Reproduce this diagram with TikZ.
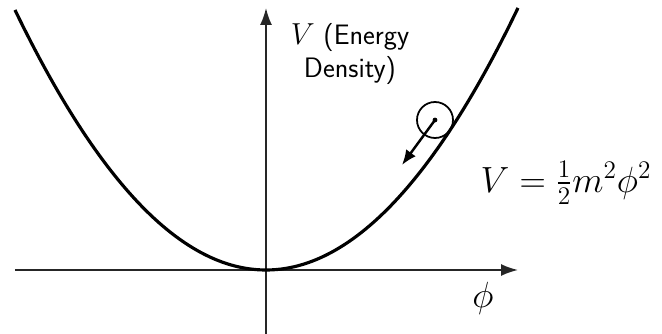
\documentclass[tikz,border=0pt]{standalone}
\usepackage{amsmath}
\usetikzlibrary{arrows.meta,positioning,calc}
\tikzset{
 axis/.style={-{Latex[length=3.4mm,width=2.4mm]},line width=1pt,draw=black!85},
 curve/.style={line width=1.8pt,draw=black},
 push/.style={-{Latex[length=3mm,width=2.4mm]},line width=1.4pt},
 lbl/.style={font=\fontsize{16}{19}\selectfont\sffamily,align=center,inner sep=1pt},
 eqn/.style={font=\fontsize{20}{24}\selectfont,inner sep=1pt}
}
\begin{document}
\begin{tikzpicture}[x=0.02cm,y=0.02cm]
\useasboundingbox (-266,-64) rectangle (396,270);
% Axes.
\coordinate (xl) at (-251,0);
\coordinate (xr) at (252,0);
\coordinate (yb) at (0,-64);
\coordinate (yt) at (0,262);
\draw[axis] (xl) -- (xr);
\draw[axis] (yb) -- (yt);
% Potential V = phi^2/2.
\draw[curve] plot[domain=-251:252,samples=120] (\x,{260*(\x/251)*(\x/251)});
% Ball rolling down.
\node[circle,draw,line width=1pt,minimum size=36*0.02cm,inner sep=0pt] (ball) at (169,150) {};
\fill (ball.center) circle (2.4);
\coordinate (tip) at (136,105);
\draw[push] (ball.center) -- (tip);
% Labels.
\node[lbl] (vlab) at (84,216) {$V$ (Energy\\Density)};
\node[eqn] (eq) at (300,87) {$V=\frac{1}{2}m^2\phi^2$};
\node[eqn] (phi) at (217,-28) {$\phi$};
\end{tikzpicture}
\end{document}
